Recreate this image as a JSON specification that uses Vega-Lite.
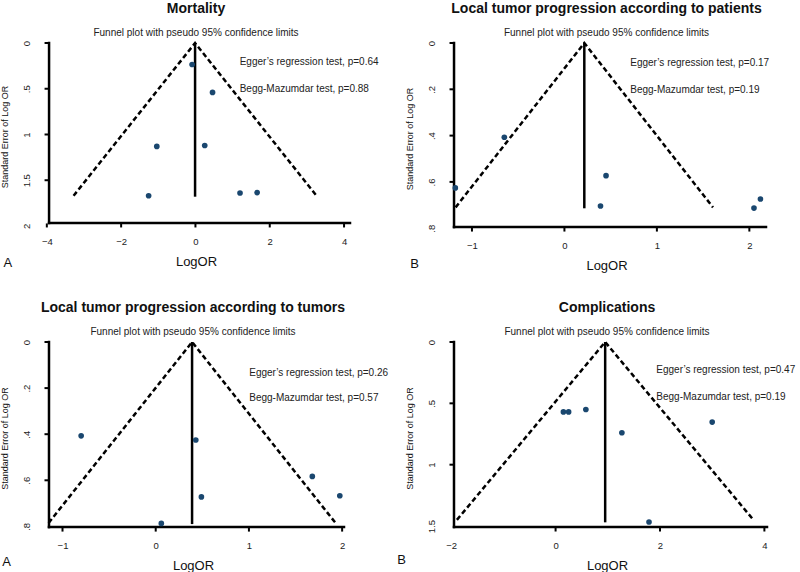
{
  "$schema": "https://vega.github.io/schema/vega-lite/v6.json",
  "background": "white",
  "padding": {"left": 0, "top": 1, "right": 0, "bottom": 0},
  "config": {
    "font": "Liberation Sans",
    "view": {"stroke": null},
    "axis": {"domain": false, "ticks": false, "tickSize": 0, "grid": false, "labelFont": "Liberation Sans", "labelFontSize": 9.5, "labelColor": "#222", "titleFont": "Liberation Sans", "titleFontWeight": "normal", "titleColor": "#111"},
    "axisY": {"labelAngle": 270, "titleFontSize": 9, "labelPadding": 11, "titlePadding": 12},
    "axisX": {"titleFontSize": 13, "labelPadding": 6, "titlePadding": 10},
    "title": {"font": "Liberation Sans", "fontSize": 14, "fontWeight": "bold", "color": "#111", "subtitleFont": "Liberation Sans", "subtitleFontSize": 10, "subtitleColor": "#222", "anchor": "middle", "offset": 0.5, "subtitlePadding": 12},
    "text": {"font": "Liberation Sans", "color": "#222"}
  },
  "datasets": {
    "p1_funnel": [{"k": 1, "logor": -3.28, "se": 1.67}, {"k": 2, "logor": -0.01, "se": 0}, {"k": 3, "logor": 3.26, "se": 1.67}],
    "p1_center": [{"logor": -0.01, "se": 0, "se_end": 1.68}],
    "p1_studies": [{"logor": -0.09, "se": 0.235}, {"logor": 0.46, "se": 0.54}, {"logor": -1.04, "se": 1.13}, {"logor": 0.25, "se": 1.12}, {"logor": -1.26, "se": 1.67}, {"logor": 1.2, "se": 1.64}, {"logor": 1.66, "se": 1.635}],
    "p1_xticks": [{"v": -4}, {"v": -2}, {"v": 0}, {"v": 2}, {"v": 4}],
    "p1_yticks": [{"v": 0}, {"v": 0.5}, {"v": 1}, {"v": 1.5}],
    "p2_funnel": [{"k": 1, "logor": -1.177, "se": 0.71}, {"k": 2, "logor": 0.215, "se": 0}, {"k": 3, "logor": 1.607, "se": 0.71}],
    "p2_center": [{"logor": 0.215, "se": 0, "se_end": 0.714}],
    "p2_studies": [{"logor": -1.18, "se": 0.626}, {"logor": -0.65, "se": 0.407}, {"logor": 0.45, "se": 0.573}, {"logor": 0.39, "se": 0.704}, {"logor": 2.05, "se": 0.713}, {"logor": 2.12, "se": 0.674}],
    "p2_xticks": [{"v": -1}, {"v": 0}, {"v": 1}, {"v": 2}],
    "p2_yticks": [{"v": 0}, {"v": 0.2}, {"v": 0.4}, {"v": 0.6}],
    "p3_funnel": [{"k": 1, "logor": -1.149, "se": 0.785}, {"k": 2, "logor": 0.39, "se": 0}, {"k": 3, "logor": 1.929, "se": 0.785}],
    "p3_center": [{"logor": 0.39, "se": 0, "se_end": 0.79}],
    "p3_studies": [{"logor": -0.8, "se": 0.407}, {"logor": 0.43, "se": 0.425}, {"logor": 0.49, "se": 0.672}, {"logor": 0.06, "se": 0.787}, {"logor": 1.68, "se": 0.583}, {"logor": 1.975, "se": 0.667}],
    "p3_xticks": [{"v": -1}, {"v": 0}, {"v": 1}, {"v": 2}],
    "p3_yticks": [{"v": 0}, {"v": 0.2}, {"v": 0.4}, {"v": 0.6}],
    "p4_funnel": [{"k": 1, "logor": -1.89, "se": 1.45}, {"k": 2, "logor": 0.95, "se": 0}, {"k": 3, "logor": 3.79, "se": 1.45}],
    "p4_center": [{"logor": 0.95, "se": 0, "se_end": 1.47}],
    "p4_studies": [{"logor": 0.15, "se": 0.57}, {"logor": 0.25, "se": 0.57}, {"logor": 0.58, "se": 0.55}, {"logor": 1.27, "se": 0.74}, {"logor": 1.79, "se": 1.467}, {"logor": 3.0, "se": 0.653}],
    "p4_xticks": [{"v": 0}, {"v": 2}, {"v": 4}],
    "p4_yticks": [{"v": 0}, {"v": 0.5}, {"v": 1}]
  },
  "columns": 2,
  "align": "all",
  "bounds": "flush",
  "spacing": {"row": 107, "column": 85},
  "concat": [
    {
      "width": 308, "height": 187,
      "title": {"text": "Mortality", "subtitle": "Funnel plot with pseudo 95% confidence limits"},
      "layer": [
        {"data": {"name": "p1_funnel"}, "mark": {"type": "line", "strokeDash": [5, 3], "strokeWidth": 2.5, "color": "black"},
         "encoding": {
           "x": {"field": "logor", "type": "quantitative", "scale": {"domain": [-4.13, 4.16], "nice": false, "zero": false}, "axis": {"values": [-4, -2, 0, 2, 4], "title": "LogOR", "format": "~g"}},
           "y": {"field": "se", "type": "quantitative", "scale": {"domain": [0, 2.044], "nice": false, "reverse": true}, "axis": {"values": [0, 0.5, 1, 1.5, 2], "title": "Standard Error of Log OR", "format": "~g", "labelExpr": "replace(datum.label, '0.', '.')"}},
           "order": {"field": "k"}}},
        {"data": {"name": "p1_center"}, "mark": {"type": "rule", "strokeWidth": 2.5, "color": "black"},
         "encoding": {"x": {"field": "logor", "type": "quantitative"}, "y": {"field": "se", "type": "quantitative"}, "y2": {"field": "se_end"}}},
        {"data": {"values": [{}]}, "mark": {"type": "rule", "strokeWidth": 2.5, "color": "black", "strokeCap": "square"},
         "encoding": {"x": {"datum": -3.94}, "x2": {"datum": 4.16}, "y": {"datum": 1.967}}},
        {"data": {"values": [{}]}, "mark": {"type": "rule", "strokeWidth": 2.5, "color": "black", "strokeCap": "square"},
         "encoding": {"x": {"datum": -3.94}, "y": {"datum": 0}, "y2": {"datum": 1.967}}},
        {"data": {"name": "p1_xticks"}, "mark": {"type": "tick", "orient": "vertical", "size": 4, "thickness": 2, "color": "black", "opacity": 1, "yOffset": 2.5},
         "encoding": {"x": {"field": "v", "type": "quantitative"}, "y": {"datum": 1.967}}},
        {"data": {"name": "p1_yticks"}, "mark": {"type": "tick", "orient": "horizontal", "size": 4, "thickness": 2, "color": "black", "opacity": 1, "xOffset": -2.5},
         "encoding": {"y": {"field": "v", "type": "quantitative"}, "x": {"datum": -3.94}}},
        {"data": {"name": "p1_studies"}, "mark": {"type": "point", "filled": true, "size": 32, "color": "#1a476f", "opacity": 1},
         "encoding": {"x": {"field": "logor", "type": "quantitative"}, "y": {"field": "se", "type": "quantitative"}}},
        {"data": {"values": [{}]}, "mark": {"type": "text", "align": "left", "baseline": "middle", "fontSize": 10},
         "encoding": {"x": {"datum": 1.19}, "y": {"datum": 0.21}, "text": {"value": "Egger’s regression test, p=0.64"}}},
        {"data": {"values": [{}]}, "mark": {"type": "text", "align": "left", "baseline": "middle", "fontSize": 10},
         "encoding": {"x": {"datum": 1.19}, "y": {"datum": 0.5}, "text": {"value": "Begg-Mazumdar test, p=0.88"}}},
        {"data": {"values": [{}]}, "mark": {"type": "text", "align": "center", "baseline": "middle", "fontSize": 13, "color": "#111"},
         "encoding": {"x": {"datum": -5.05}, "y": {"datum": 2.405}, "text": {"value": "A"}}}
      ]
    },
    {
      "width": 319, "height": 191,
      "title": {"text": "Local tumor progression according to patients", "subtitle": "Funnel plot with pseudo 95% confidence limits"},
      "layer": [
        {"data": {"name": "p2_funnel"}, "mark": {"type": "line", "strokeDash": [5, 3], "strokeWidth": 2.5, "color": "black"},
         "encoding": {
           "x": {"field": "logor", "type": "quantitative", "scale": {"domain": [-1.27, 2.18], "nice": false, "zero": false}, "axis": {"values": [-1, 0, 1, 2], "title": "LogOR", "format": "~g"}},
           "y": {"field": "se", "type": "quantitative", "scale": {"domain": [0, 0.825], "nice": false, "reverse": true}, "axis": {"values": [0, 0.2, 0.4, 0.6, 0.8], "title": "Standard Error of Log OR", "format": "~g", "labelExpr": "replace(datum.label, '0.', '.')"}},
           "order": {"field": "k"}}},
        {"data": {"name": "p2_center"}, "mark": {"type": "rule", "strokeWidth": 2.5, "color": "black"},
         "encoding": {"x": {"field": "logor", "type": "quantitative"}, "y": {"field": "se", "type": "quantitative"}, "y2": {"field": "se_end"}}},
        {"data": {"values": [{}]}, "mark": {"type": "rule", "strokeWidth": 2.5, "color": "black", "strokeCap": "square"},
         "encoding": {"x": {"datum": -1.194}, "x2": {"datum": 2.18}, "y": {"datum": 0.795}}},
        {"data": {"values": [{}]}, "mark": {"type": "rule", "strokeWidth": 2.5, "color": "black", "strokeCap": "square"},
         "encoding": {"x": {"datum": -1.194}, "y": {"datum": 0}, "y2": {"datum": 0.795}}},
        {"data": {"name": "p2_xticks"}, "mark": {"type": "tick", "orient": "vertical", "size": 4, "thickness": 2, "color": "black", "opacity": 1, "yOffset": 2.5},
         "encoding": {"x": {"field": "v", "type": "quantitative"}, "y": {"datum": 0.795}}},
        {"data": {"name": "p2_yticks"}, "mark": {"type": "tick", "orient": "horizontal", "size": 4, "thickness": 2, "color": "black", "opacity": 1, "xOffset": -2.5},
         "encoding": {"y": {"field": "v", "type": "quantitative"}, "x": {"datum": -1.194}}},
        {"data": {"name": "p2_studies"}, "mark": {"type": "point", "filled": true, "size": 32, "color": "#1a476f", "opacity": 1},
         "encoding": {"x": {"field": "logor", "type": "quantitative"}, "y": {"field": "se", "type": "quantitative"}}},
        {"data": {"values": [{}]}, "mark": {"type": "text", "align": "left", "baseline": "middle", "fontSize": 10},
         "encoding": {"x": {"datum": 0.712}, "y": {"datum": 0.085}, "text": {"value": "Egger’s regression test, p=0.17"}}},
        {"data": {"values": [{}]}, "mark": {"type": "text", "align": "left", "baseline": "middle", "fontSize": 10},
         "encoding": {"x": {"datum": 0.712}, "y": {"datum": 0.202}, "text": {"value": "Begg-Mazumdar test, p=0.19"}}},
        {"data": {"values": [{}]}, "mark": {"type": "text", "align": "center", "baseline": "middle", "fontSize": 13, "color": "#111"},
         "encoding": {"x": {"datum": -1.62}, "y": {"datum": 0.955}, "text": {"value": "B"}}}
      ]
    },
    {
      "width": 302, "height": 192,
      "title": {"text": "Local tumor progression according to tumors", "subtitle": "Funnel plot with pseudo 95% confidence limits"},
      "layer": [
        {"data": {"name": "p3_funnel"}, "mark": {"type": "line", "strokeDash": [5, 3], "strokeWidth": 2.5, "color": "black"},
         "encoding": {
           "x": {"field": "logor", "type": "quantitative", "scale": {"domain": [-1.22, 2.02], "nice": false, "zero": false}, "axis": {"values": [-1, 0, 1, 2], "title": "LogOR", "format": "~g"}},
           "y": {"field": "se", "type": "quantitative", "scale": {"domain": [0, 0.833], "nice": false, "reverse": true}, "axis": {"values": [0, 0.2, 0.4, 0.6, 0.8], "title": "Standard Error of Log OR", "format": "~g", "labelExpr": "replace(datum.label, '0.', '.')"}},
           "order": {"field": "k"}}},
        {"data": {"name": "p3_center"}, "mark": {"type": "rule", "strokeWidth": 2.5, "color": "black"},
         "encoding": {"x": {"field": "logor", "type": "quantitative"}, "y": {"field": "se", "type": "quantitative"}, "y2": {"field": "se_end"}}},
        {"data": {"values": [{}]}, "mark": {"type": "rule", "strokeWidth": 2.5, "color": "black", "strokeCap": "square"},
         "encoding": {"x": {"datum": -1.145}, "x2": {"datum": 2.02}, "y": {"datum": 0.803}}},
        {"data": {"values": [{}]}, "mark": {"type": "rule", "strokeWidth": 2.5, "color": "black", "strokeCap": "square"},
         "encoding": {"x": {"datum": -1.145}, "y": {"datum": 0}, "y2": {"datum": 0.803}}},
        {"data": {"name": "p3_xticks"}, "mark": {"type": "tick", "orient": "vertical", "size": 4, "thickness": 2, "color": "black", "opacity": 1, "yOffset": 2.5},
         "encoding": {"x": {"field": "v", "type": "quantitative"}, "y": {"datum": 0.803}}},
        {"data": {"name": "p3_yticks"}, "mark": {"type": "tick", "orient": "horizontal", "size": 4, "thickness": 2, "color": "black", "opacity": 1, "xOffset": -2.5},
         "encoding": {"y": {"field": "v", "type": "quantitative"}, "x": {"datum": -1.145}}},
        {"data": {"name": "p3_studies"}, "mark": {"type": "point", "filled": true, "size": 32, "color": "#1a476f", "opacity": 1},
         "encoding": {"x": {"field": "logor", "type": "quantitative"}, "y": {"field": "se", "type": "quantitative"}}},
        {"data": {"values": [{}]}, "mark": {"type": "text", "align": "left", "baseline": "middle", "fontSize": 10},
         "encoding": {"x": {"datum": 1.003}, "y": {"datum": 0.133}, "text": {"value": "Egger’s regression test, p=0.26"}}},
        {"data": {"values": [{}]}, "mark": {"type": "text", "align": "left", "baseline": "middle", "fontSize": 10},
         "encoding": {"x": {"datum": 1.003}, "y": {"datum": 0.245}, "text": {"value": "Begg-Mazumdar test, p=0.57"}}},
        {"data": {"values": [{}]}, "mark": {"type": "text", "align": "center", "baseline": "middle", "fontSize": 13, "color": "#111"},
         "encoding": {"x": {"datum": -1.6}, "y": {"datum": 0.956}, "text": {"value": "A"}}}
      ]
    },
    {
      "width": 320, "height": 192,
      "title": {"text": "Complications", "subtitle": "Funnel plot with pseudo 95% confidence limits"},
      "layer": [
        {"data": {"name": "p4_funnel"}, "mark": {"type": "line", "strokeDash": [5, 3], "strokeWidth": 2.5, "color": "black"},
         "encoding": {
           "x": {"field": "logor", "type": "quantitative", "scale": {"domain": [-2.08, 4.05], "nice": false, "zero": false}, "axis": {"values": [-2, 0, 2, 4], "title": "LogOR", "format": "~g"}},
           "y": {"field": "se", "type": "quantitative", "scale": {"domain": [0, 1.565], "nice": false, "reverse": true}, "axis": {"values": [0, 0.5, 1, 1.5], "title": "Standard Error of Log OR", "format": "~g", "labelExpr": "replace(datum.label, '0.', '.')"}},
           "order": {"field": "k"}}},
        {"data": {"name": "p4_center"}, "mark": {"type": "rule", "strokeWidth": 2.5, "color": "black"},
         "encoding": {"x": {"field": "logor", "type": "quantitative"}, "y": {"field": "se", "type": "quantitative"}, "y2": {"field": "se_end"}}},
        {"data": {"values": [{}]}, "mark": {"type": "rule", "strokeWidth": 2.5, "color": "black", "strokeCap": "square"},
         "encoding": {"x": {"datum": -1.946}, "x2": {"datum": 4.05}, "y": {"datum": 1.508}}},
        {"data": {"values": [{}]}, "mark": {"type": "rule", "strokeWidth": 2.5, "color": "black", "strokeCap": "square"},
         "encoding": {"x": {"datum": -1.946}, "y": {"datum": 0}, "y2": {"datum": 1.508}}},
        {"data": {"name": "p4_xticks"}, "mark": {"type": "tick", "orient": "vertical", "size": 4, "thickness": 2, "color": "black", "opacity": 1, "yOffset": 2.5},
         "encoding": {"x": {"field": "v", "type": "quantitative"}, "y": {"datum": 1.508}}},
        {"data": {"name": "p4_yticks"}, "mark": {"type": "tick", "orient": "horizontal", "size": 4, "thickness": 2, "color": "black", "opacity": 1, "xOffset": -2.5},
         "encoding": {"y": {"field": "v", "type": "quantitative"}, "x": {"datum": -1.946}}},
        {"data": {"name": "p4_studies"}, "mark": {"type": "point", "filled": true, "size": 32, "color": "#1a476f", "opacity": 1},
         "encoding": {"x": {"field": "logor", "type": "quantitative"}, "y": {"field": "se", "type": "quantitative"}}},
        {"data": {"values": [{}]}, "mark": {"type": "text", "align": "left", "baseline": "middle", "fontSize": 10},
         "encoding": {"x": {"datum": 1.93}, "y": {"datum": 0.23}, "text": {"value": "Egger’s regression test, p=0.47"}}},
        {"data": {"values": [{}]}, "mark": {"type": "text", "align": "left", "baseline": "middle", "fontSize": 10},
         "encoding": {"x": {"datum": 1.93}, "y": {"datum": 0.446}, "text": {"value": "Begg-Mazumdar test, p=0.19"}}},
        {"data": {"values": [{}]}, "mark": {"type": "text", "align": "center", "baseline": "middle", "fontSize": 13, "color": "#111"},
         "encoding": {"x": {"datum": -2.95}, "y": {"datum": 1.776}, "text": {"value": "B"}}}
      ]
    }
  ]
}
